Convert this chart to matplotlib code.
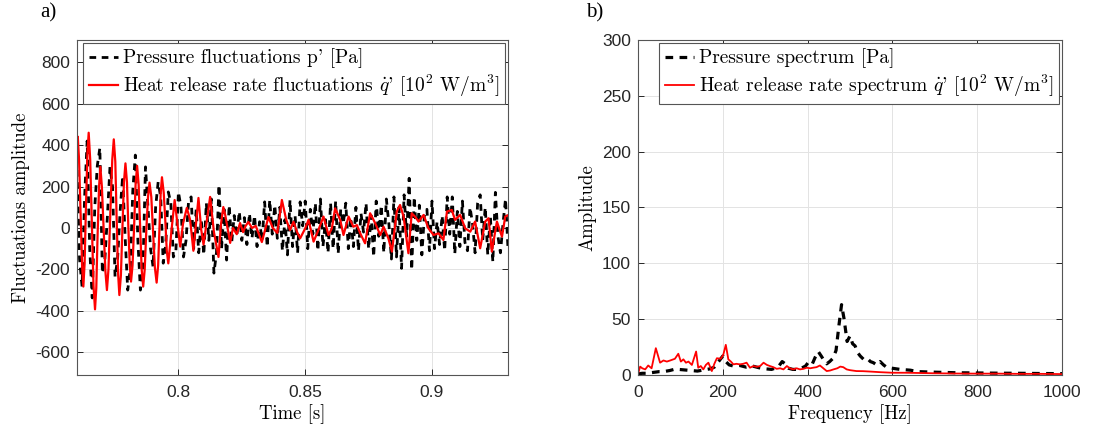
import numpy as np
import matplotlib
matplotlib.use("Agg")
import matplotlib.pyplot as plt

# ---- a) time signals -------------------------------------------------
t_start = 0.76
dt = 0.001

# pressure fluctuations p' [Pa], one value every dt (0.760 ... 0.930 s)
p_values = [
    280, -150, -283, 150, 420, -100, -338, 100, 300, 386,
    -218, -150, 60, 295, 200, -236, -150, 80, 250, -50,
    -300, -200, 180, 352, -60, -300, -200, 295, 100, -100,
    -188, 100, 222, 150, -170, -80, 174, 120, -140, -110,
    174, 100, -140, -60, 130, 150, -100, 90, -120, 40,
    -130, 120, -60, 140, -218, -120, 208, -100, 90, -155,
    110, -70, 60, -40, 80, -60, 50, -80, 70, -50,
    60, -90, 30, -60, 126, -92, 135, -30, 110, -50,
    100, -110, 40, -130, 135, -90, 60, -120, 126, 10,
    130, -100, 90, -30, 120, -110, 140, -90, 40, -120,
    120, -100, 130, -125, 90, 20, 120, -100, 50, -90,
    100, -110, 70, -20, 120, -100, 60, -140, 130, -40,
    110, -120, 140, 20, -150, 150, -140, 100, -195, 160,
    -40, 240, -203, 150, -60, 110, -130, 60, 90, -110,
    130, -100, 30, -80, 60, -110, 150, -30, 150, -125,
    80, -90, 130, -70, -110, 100, 20, -120, 120, 160,
    -60, 100, -130, 60, -164, 172, -40, -120, 20, 140,
    -105,
]
p_time = t_start + dt * np.arange(len(p_values))

# heat release rate fluctuations q' [1e2 W/m3], read at turning points
q_time = [
    0.7600, 0.7603, 0.7608, 0.7614, 0.7620, 0.7625, 0.7630, 0.7635, 0.7641, 0.7646,
    0.7652, 0.7658, 0.7665, 0.7671, 0.7676, 0.7681, 0.7687, 0.7692, 0.7698, 0.7705,
    0.7712, 0.7718, 0.7724, 0.7731, 0.7739, 0.7745, 0.7751, 0.7756, 0.7762, 0.7767,
    0.7773, 0.7779, 0.7785, 0.7791, 0.7797, 0.7802, 0.7808, 0.7813, 0.7819, 0.7825,
    0.7831, 0.7837, 0.7843, 0.7849, 0.7855, 0.7861, 0.7867, 0.7873, 0.7880, 0.7886,
    0.7893, 0.7900, 0.7907, 0.7914, 0.7920, 0.7925, 0.7930, 0.7935, 0.7942, 0.7948,
    0.7954, 0.7960, 0.7972, 0.7985, 0.7996, 0.8007, 0.8018, 0.8033, 0.8046, 0.8059,
    0.8079, 0.8090, 0.8099, 0.8125, 0.8140, 0.8158, 0.8168, 0.8177, 0.8185, 0.8204,
    0.8215, 0.8230, 0.8243, 0.8255, 0.8265, 0.8276, 0.8290, 0.8305, 0.8329, 0.8355,
    0.8372, 0.8390, 0.8408, 0.8425, 0.8440, 0.8454, 0.8468, 0.8480, 0.8500, 0.8513,
    0.8533, 0.8552, 0.8572, 0.8592, 0.8605, 0.8618, 0.8638, 0.8651, 0.8671, 0.8690,
    0.8704, 0.8717, 0.8736, 0.8756, 0.8776, 0.8796, 0.8809, 0.8828, 0.8842, 0.8861,
    0.8874, 0.8888, 0.8907, 0.8920, 0.8933, 0.8947, 0.8967, 0.8986, 0.9006, 0.9026,
    0.9045, 0.9059, 0.9078, 0.9091, 0.9111, 0.9131, 0.9151, 0.9170, 0.9190, 0.9210,
    0.9223, 0.9236, 0.9256, 0.9276, 0.9289, 0.9302,
]
q_values = [
    330, 441, 330, 80, -180, -283, -170, 90, 360, 460,
    330, 50, -280, -393, -290, -40, 200, 296, 200, 0,
    -210, -300, -200, 60, 330, 428, 320, 60, -220, -324,
    -230, 0, 220, 312, 220, 20, -180, -259, -180, 0,
    210, 300, 210, 10, -200, -283, -200, -20, 150, 219,
    150, -20, -190, -264, -180, 0, 170, 245, 170, 40,
    -110, -171, -20, 135, 20, -90, 20, 97, 40, -110,
    145, -10, -80, 150, -20, -140, 20, 101, 60, -72,
    0, -30, 24, -20, 10, 29, 0, 10, -68, 53,
    0, -24, 135, 40, -10, 30, -20, -50, -2, 39,
    -66, -10, 55, -34, -2, 95, 39, -34, 55, 6,
    14, -26, -74, 71, 23, -34, 6, -50, -114, 79,
    111, 55, -122, 71, 55, 31, 63, -2, -34, -26,
    -58, 79, 87, 39, 63, -2, -18, 31, -98, 31,
    47, -114, 31, -42, 55, 63,
]

# ---- b) spectra -----------------------------------------------------
p_freq = [0, 10, 20, 30, 40, 50, 60, 75, 85, 95, 110, 125, 140, 155, 170, 180, 190,
          200, 207, 215, 225, 240, 255, 270, 285, 300, 315, 330, 340, 347, 355, 365,
          380, 395, 401, 410, 418, 425, 432, 437, 445, 452, 460, 467, 474, 480, 486,
          493, 500, 506, 512, 518, 524, 532, 540, 548, 555, 563, 571, 579, 586, 600,
          618, 642, 660, 700, 750, 800, 850, 900, 950, 1000]
p_amp = [1, 1.5, 1.5, 2, 2.5, 3, 3, 4, 5, 5, 4.5, 4, 3.5, 4.5, 5.5, 7, 12,
         17, 12, 9, 8, 8.5, 7, 8, 6.5, 5.5, 5, 7, 12, 10, 6, 5,
         5, 8, 11, 9, 16, 21, 17, 14, 10, 12, 15, 22, 45, 63, 50,
         30, 35, 28, 26, 20, 17, 14, 15, 12, 11, 9, 12, 9, 7, 6,
         5, 4.3, 3, 2.5, 2, 1.8, 1.6, 1.5, 1.3, 1.2]

q_freq = [0, 5, 10, 17, 24, 32, 42, 52, 60, 68, 76, 87, 95, 101, 107, 113, 119, 127,
          137, 142, 148, 154, 160, 166, 174, 180, 186, 195, 201, 207, 213, 219, 225,
          232, 240, 248, 256, 264, 272, 280, 288, 296, 304, 311, 319, 327, 335, 343,
          351, 358, 366, 374, 382, 390, 398, 406, 413, 421, 429, 437, 445, 453, 461,
          470, 477, 484, 492, 500, 515, 531, 550, 571, 600, 630, 660, 700, 750, 800,
          850, 900, 950, 1000]
q_amp = [1, 7.5, 6, 5, 8.5, 6, 24, 11, 13, 12, 13, 14.5, 19, 12, 14, 11, 12, 9,
         21, 6.5, 8, 5, 9, 11, 3.5, 10, 15, 14.5, 18, 27, 14, 12, 9.5,
         10, 9.5, 10, 11, 6.5, 8, 7.3, 8, 11, 9, 8, 7, 5.5, 6, 5,
         8, 6, 5, 6, 5, 5.5, 6.5, 6, 6.5, 7, 8.5, 6, 3.5, 4, 5,
         6, 7.5, 7, 5, 4.3, 3.5, 3.4, 3, 2.5, 2, 2, 1.8, 1.5, 1.3, 1.2,
         1.2, 1, 1, 0.8]

plt.rcParams['axes.unicode_minus'] = False
plt.rcParams['mathtext.fontset'] = 'cm'

serif = ['cmr10', 'DejaVu Serif']
tick_font = 'Liberation Sans'
dark = '#262626'
dash = (0, (2.4, 2.0))

fig = plt.figure(figsize=(10.94, 4.32), dpi=100)
ax1 = fig.add_axes([0.0704, 0.132, 0.394, 0.7755])
ax2 = fig.add_axes([0.5832, 0.132, 0.3876, 0.7755])

ax1.plot(p_time, p_values, color='black', lw=2.0, linestyle=dash,
         label="Pressure fluctuations p' [Pa]")
ax1.plot(q_time, q_values, color='#ff0000', lw=1.6,
         label="Heat release rate fluctuations $\\dot{q}$' [$10^2$ W/m$^3$]")
ax1.set_xlim(0.76, 0.93)
ax1.set_ylim(-710, 908)
ax1.set_xticks([0.8, 0.85, 0.9])
ax1.set_xticklabels(['0.8', '0.85', '0.9'])
ax1.set_yticks(np.arange(-600, 801, 200))
ax1.set_xlabel('Time [s]', family=serif, fontsize=13.5, labelpad=3)
ax1.set_ylabel('Fluctuations amplitude', family=serif, fontsize=13.5, labelpad=4)

ax2.plot(p_freq, p_amp, color='black', lw=2.3, linestyle=dash,
         label='Pressure spectrum [Pa]')
ax2.plot(q_freq, q_amp, color='#ff0000', lw=1.3,
         label="Heat release rate spectrum $\\dot{q}$' [$10^2$ W/m$^3$]")
ax2.set_xlim(0, 1000)
ax2.set_ylim(0, 300)
ax2.set_xticks(np.arange(0, 1001, 200))
ax2.set_yticks(np.arange(0, 301, 50))
ax2.set_xlabel('Frequency [Hz]', family=serif, fontsize=13.5, labelpad=3)
ax2.set_ylabel('Amplitude', family=serif, fontsize=13.5, labelpad=4)

for ax in (ax1, ax2):
    ax.grid(True, color='#e3e3e3', lw=0.7)
    ax.set_axisbelow(True)
    ax.tick_params(direction='in', length=4, width=0.7, colors=dark,
                   top=True, right=True, labelsize=12.5)
    ax.tick_params(axis='x', pad=7)
    ax.tick_params(axis='y', pad=5)
    for lab in ax.get_xticklabels() + ax.get_yticklabels():
        lab.set_family(tick_font)
    for sp in ax.spines.values():
        sp.set_color('#555555')
        sp.set_linewidth(0.8)
    leg = ax.legend(loc='upper right', prop={'family': serif, 'size': 14},
                    fancybox=False, framealpha=1, edgecolor='#555555',
                    borderaxespad=0.15, handlelength=1.5, handletextpad=0.25,
                    labelspacing=0.2, borderpad=0.3)
    leg.get_frame().set_linewidth(0.8)

fig.text(40 / 1094, 1 - 13 / 432, 'a)', family='Liberation Serif', fontsize=15, va='center')
fig.text(586 / 1094, 1 - 13 / 432, 'b)', family='Liberation Serif', fontsize=15, va='center')

fig.savefig('out.png', dpi=100)
